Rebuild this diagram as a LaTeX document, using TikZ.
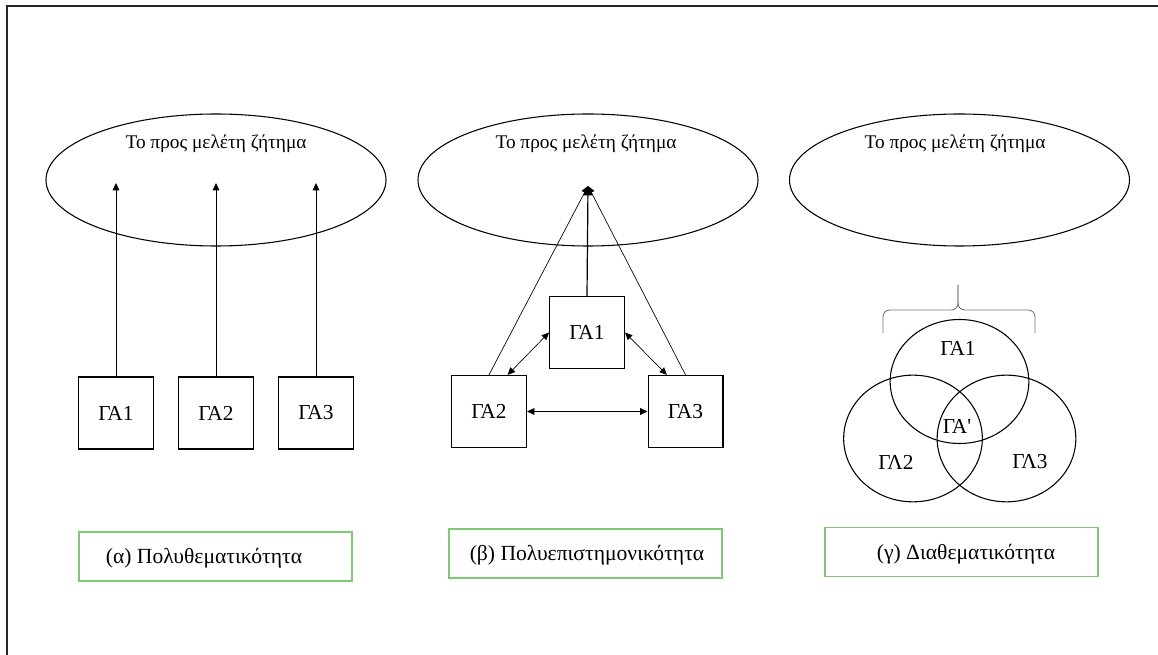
\documentclass[tikz,border=0pt]{standalone}
\usepackage{fontspec}
\setmainfont{Liberation Serif}
% same family without TeX ligatures, for a straight apostrophe
\newfontfamily\plainserif{Liberation Serif}
\usetikzlibrary{arrows.meta,shapes.geometric}
\definecolor{capgreen}{RGB}{128,200,118}
\definecolor{bracegray}{RGB}{120,120,120}
\tikzset{
  topic/.style={draw, ellipse, line width=0.8pt, minimum width=255pt, minimum height=99pt, inner sep=0pt},
  topictext/.style={font=\fontsize{14.5}{16}\selectfont, inner sep=0pt},
  fieldbox/.style={draw, line width=1pt, minimum width=56pt, minimum height=54pt, inner sep=0pt, font=\fontsize{16}{18}\selectfont},
  caption/.style={draw=capgreen, line width=1.1pt, minimum width=205pt, minimum height=37pt, inner sep=0pt},
  captext/.style={font=\fontsize{16.2}{18}\selectfont, inner sep=0pt},
  venn/.style={draw, ellipse, line width=0.8pt, minimum width=104pt, minimum height=93pt, inner sep=0pt},
  venntext/.style={font=\fontsize{16}{18}\selectfont, inner sep=0pt},
  arr/.style={line width=0.5pt, -{Triangle[length=5.5pt,width=5pt]}},
  darr/.style={line width=0.5pt, {Triangle[length=5.5pt,width=5pt]}-{Triangle[length=5.5pt,width=5pt]}}
}
\begin{document}
\begin{tikzpicture}[x=0.75pt,y=-0.75pt]
\useasboundingbox (0,0) rectangle (1158,655);
% outer frame
\draw[line width=1pt, black!85] (1158,6) -- (7,6) -- (7,655);

% ---- (a) multi-thematic approach
\node[topic] (ea) at (216,180) {};
\node[topictext] (ta) at (216,144) {Το προς μελέτη ζήτημα};
\node[fieldbox] (a1) at (116,413) {ΓΑ1};
\node[fieldbox] (a2) at (216,413) {ΓΑ2};
\node[fieldbox] (a3) at (316,413) {ΓΑ3};
\coordinate (pa1) at (116,183);
\coordinate (pa2) at (216,183);
\coordinate (pa3) at (316,183);
\draw[arr] (a1.north) -- (pa1);
\draw[arr] (a2.north) -- (pa2);
\draw[arr] (a3.north) -- (pa3);
\node[caption] (ca) at (215.5,556.5) {};
\node[captext] (cta) at (204,558.5) {(α) Πολυθεματικότητα};

% ---- (b) multidisciplinary approach
\node[topic] (eb) at (588,180) {};
\node[topictext] (tb) at (586,144) {Το προς μελέτη ζήτημα};
\node[fieldbox] (b1) at (587,332.5) {ΓΑ1};
\node[fieldbox] (b2) at (489,411.5) {ΓΑ2};
\node[fieldbox] (b3) at (685.5,411.5) {ΓΑ3};
\coordinate (apex) at (588,186);
\draw[arr, line width=0.9pt, -{Triangle[length=7pt,width=7pt]}] (b1.north) -- (apex);
\draw[arr] (b2.north) -- (apex);
\draw[arr] (b3.north) -- (apex);
\draw[darr] (b1.west) -- (b2.63);
\draw[darr] (b1.east) -- (b3.117);
\draw[darr] (b2.east) -- (b3.west);
\node[caption] (cb) at (585.5,553.5) {};
\node[captext] (ctb) at (587,555.5) {(β) Πολυεπιστημονικότητα};

% ---- (c) cross-thematic approach
\node[topic] (ec) at (959.5,180) {};
\node[topictext] (tc) at (955,144) {Το προς μελέτη ζήτημα};
\draw[bracegray, line width=0.7pt, rounded corners=5pt]
  (883,333) -- (883,310) -- (958,310) -- (958,285);
\draw[bracegray, line width=0.7pt, rounded corners=5pt]
  (1035,333) -- (1035,310) -- (958,310) -- (958,285);
\node[venn] (v1) at (959.5,381.5) {};
\node[venn, minimum height=95pt] (v2) at (913,438.5) {};
\node[venn, minimum height=95pt] (v3) at (1006.5,438.5) {};
\node[venntext] (l1) at (958,348) {ΓΑ1};
\node[venntext] (l0) at (957,426) {{\plainserif ΓΑ'}};
\node[venntext] (l2) at (896,462) {ΓΛ2};
\node[venntext] (l3) at (1030,462) {ΓΛ3};
\node[caption] (cc) at (961.5,552) {};
\node[captext] (ctc) at (966,554) {(γ) Διαθεματικότητα};
\end{tikzpicture}
\end{document}
